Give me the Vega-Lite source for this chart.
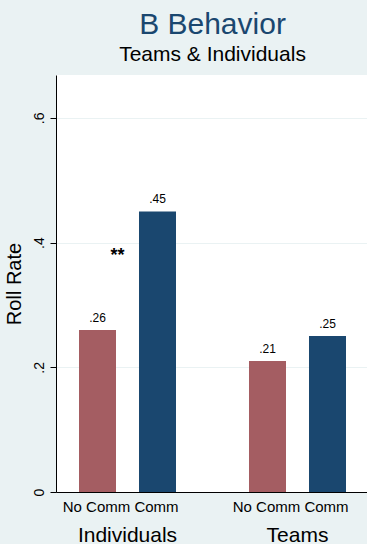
{
  "$schema": "https://vega.github.io/schema/vega-lite/v6.json",
  "width": 313,
  "height": 417,
  "autosize": {"type": "none"},
  "padding": {"left": 56, "top": 75, "right": 0, "bottom": 52},
  "background": "#eaf2f3",
  "config": {
    "font": "Liberation Sans",
    "view": {"fill": "white", "stroke": null}
  },
  "title": {
    "text": "B Behavior",
    "subtitle": "Teams & Individuals",
    "anchor": "middle",
    "frame": "group",
    "fontSize": 30,
    "fontWeight": "normal",
    "color": "#1a476f",
    "subtitleFontSize": 21,
    "subtitleColor": "black",
    "subtitlePadding": 4,
    "offset": 10
  },
  "datasets": {
    "rates": [
      {"group": "Individuals", "comm": "No Comm", "rate": 0.26, "label": ".26"},
      {"group": "Individuals", "comm": "Comm", "rate": 0.45, "label": ".45"},
      {"group": "Teams", "comm": "No Comm", "rate": 0.21, "label": ".21"},
      {"group": "Teams", "comm": "Comm", "rate": 0.25, "label": ".25"}
    ],
    "marks": [
      {"group": "Individuals", "level": 0.37, "text": "**"}
    ]
  },
  "data": {"name": "rates"},
  "encoding": {
    "x": {
      "field": "group",
      "type": "nominal",
      "sort": ["Individuals", "Teams"],
      "scale": {"paddingInner": 0.2, "paddingOuter": 0.0206},
      "axis": {
        "title": null,
        "labelAngle": 0,
        "labelFontSize": 21,
        "labelColor": "black",
        "labelBaseline": "alphabetic",
        "labelPadding": 49,
        "ticks": false,
        "domainColor": "black",
        "domainWidth": 1,
        "grid": false
      }
    },
    "xOffset": {
      "field": "comm",
      "type": "nominal",
      "sort": ["No Comm", "Comm"],
      "scale": {"paddingInner": 0.3833, "paddingOuter": 0.325}
    },
    "y": {
      "field": "rate",
      "type": "quantitative",
      "scale": {"domain": [0, 0.6688], "nice": false, "zero": true},
      "axis": {
        "title": "Roll Rate",
        "titleFontSize": 20,
        "titleFontWeight": "normal",
        "titleColor": "black",
        "titlePadding": 8,
        "values": [0, 0.2, 0.4, 0.6],
        "labelExpr": "datum.value == 0 ? '0' : '.' + round(datum.value * 10)",
        "labelAngle": -90,
        "labelAlign": "center",
        "labelBaseline": "bottom",
        "labelFontSize": 14,
        "labelColor": "black",
        "labelPadding": 4,
        "tickSize": 6,
        "tickColor": "black",
        "domainColor": "black",
        "gridColor": "#eaf2f3",
        "gridWidth": 1
      }
    }
  },
  "layer": [
    {
      "mark": {"type": "bar"},
      "encoding": {
        "color": {
          "field": "comm",
          "type": "nominal",
          "scale": {"domain": ["No Comm", "Comm"], "range": ["#a45d62", "#1a476f"]},
          "legend": null
        }
      }
    },
    {
      "mark": {"type": "text", "fontSize": 12, "baseline": "alphabetic", "dy": -8, "color": "black"},
      "encoding": {"text": {"field": "label"}}
    },
    {
      "mark": {"type": "text", "fontSize": 15, "baseline": "alphabetic", "dy": 20, "dx": -1, "color": "black"},
      "encoding": {
        "y": {"datum": 0, "type": "quantitative"},
        "text": {"field": "comm"}
      }
    },
    {
      "data": {"name": "marks"},
      "mark": {"type": "text", "fontSize": 18, "fontWeight": "bold", "baseline": "alphabetic", "dx": -10, "color": "black"},
      "encoding": {
        "xOffset": null,
        "y": {"field": "level", "type": "quantitative"},
        "text": {"field": "text"}
      }
    }
  ]
}
